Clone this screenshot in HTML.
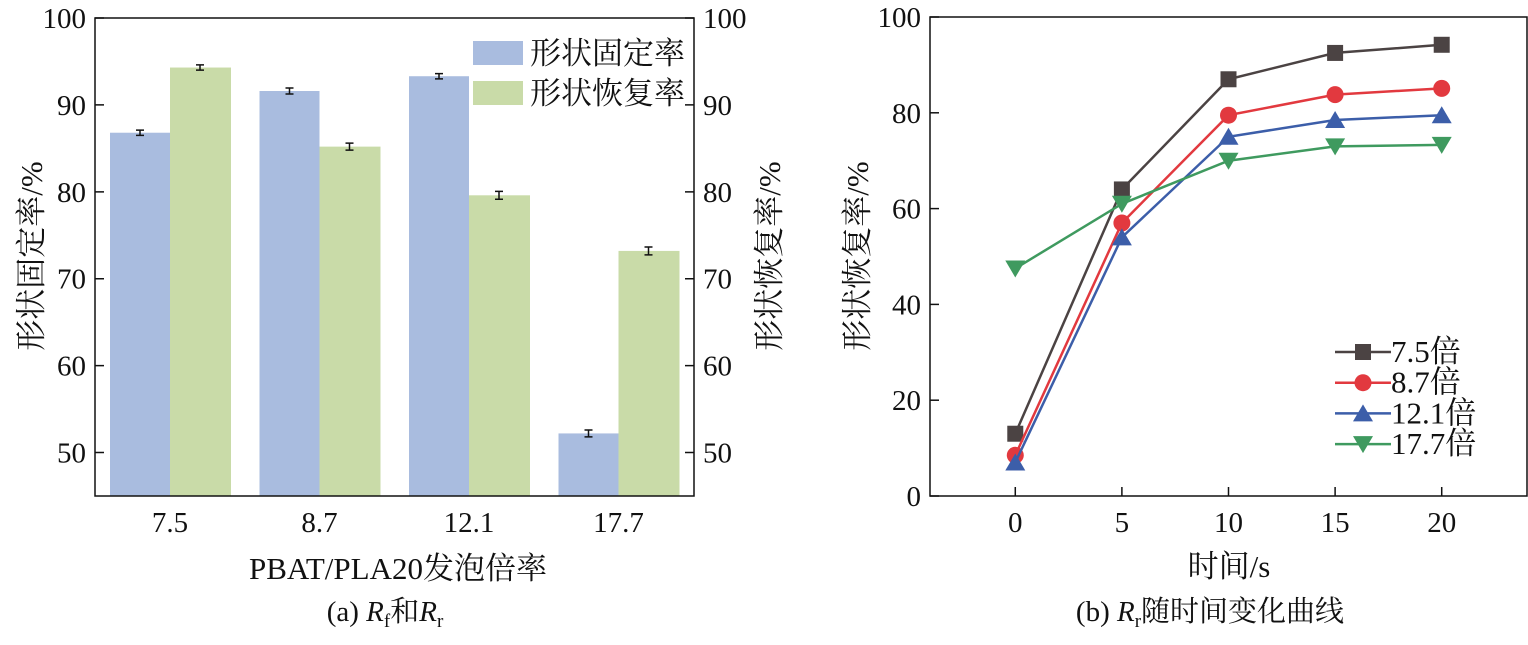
<!DOCTYPE html>
<html><head><meta charset="utf-8"><style>
body{margin:0;background:#fff}
svg text{font-family:"Liberation Serif","Noto Serif CJK SC","Noto Sans CJK SC",serif;fill:#111}
</style></head><body>
<svg id="s" width="1528" height="640" xmlns="http://www.w3.org/2000/svg"></svg>
<script>
const barCats=["7.5","8.7","12.1","17.7"];
const rfVals=[86.8,91.6,93.3,52.2];
const rrVals=[94.3,85.2,79.6,73.2];
const rfErr=[0.3,0.35,0.3,0.4];
const rrErr=[0.3,0.4,0.45,0.45];
const barTicks=[50,60,70,80,90,100];
const timeVals=[0,5,10,15,20];
const s75=[13,64,87,92.5,94.2];
const s87=[8.5,57,79.5,83.8,85.1];
const s121=[7,54,75,78.5,79.5];
const s177=[47.5,61,70,73,73.3];
const lineNames=["7.5倍","8.7倍","12.1倍","17.7倍"];
const lineTicksY=[0,20,40,60,80,100];
const svg=document.getElementById('s');
const NS="http://www.w3.org/2000/svg";
const FT=29, FA=31;
function mk(t,a,txt){const e=document.createElementNS(NS,t);for(const k in a)e.setAttribute(k,a[k]);if(txt!==undefined)e.textContent=txt;svg.appendChild(e);return e;}
// Left chart
const L={x0:95,x1:694,y0:496,y1:18,min:45,max:100};
const ly=v=>L.y0-(v-L.min)/(L.max-L.min)*(L.y0-L.y1);
const gx=i=>170+i*149.5;
barCats.forEach((c,i)=>{
 let b=mk('rect',{x:gx(i)-60,y:ly(rfVals[i]),width:60,height:L.y0-ly(rfVals[i]),fill:'#a9bcdf'});
 
 b=mk('rect',{x:gx(i),y:ly(rrVals[i]),width:61,height:L.y0-ly(rrVals[i]),fill:'#c9dba8'});
 
 [[gx(i)-30,rfVals[i],rfErr[i]],[gx(i)+30,rrVals[i],rrErr[i]]].forEach(([x,v,e])=>{
  const p=mk('path',{d:`M${x-4},${ly(v+e)}H${x+4}M${x},${ly(v+e)}V${ly(v-e)}M${x-4},${ly(v-e)}H${x+4}`,stroke:'#111','stroke-width':1.5,fill:'none'});
  
 });
 const t=mk('text',{x:gx(i),y:532,'font-size':FT,'text-anchor':'middle'},c);
 
});
let f=mk('rect',{x:L.x0,y:L.y1,width:L.x1-L.x0,height:L.y0-L.y1,fill:'none',stroke:'#111','stroke-width':1.5});

barTicks.forEach(v=>{
 mk('path',{d:`M${L.x0},${ly(v)}h9M${L.x1},${ly(v)}h-9`,stroke:'#111','stroke-width':1.5});
 let t=mk('text',{x:L.x0-9,y:ly(v)+10,'font-size':FT,'text-anchor':'end'},v);
 
 t=mk('text',{x:L.x1+9,y:ly(v)+10,'font-size':FT},v);
 
});
[['#a9bcdf','形状固定率',41],['#c9dba8','形状恢复率',81]].forEach(([c,n,y])=>{
 let r=mk('rect',{x:473,y:y,width:50,height:24,fill:c});
 
 let t=mk('text',{x:530,y:y+23,'font-size':FA},n);
 
});
let t=mk('text',{x:398,y:579,'font-size':FA,'text-anchor':'middle'},'PBAT/PLA20发泡倍率');

t=mk('text',{transform:'translate(42,256) rotate(-90)','font-size':FA,'text-anchor':'middle'},'形状固定率/%');

t=mk('text',{transform:'translate(780,256) rotate(-90)','font-size':FA,'text-anchor':'middle'},'形状恢复率/%');

t=mk('text',{x:385,y:621,'font-size':29,'text-anchor':'middle'});
t.innerHTML='(a) <tspan font-style="italic">R</tspan><tspan font-size="19" dy="6">f</tspan><tspan dy="-6">和</tspan><tspan font-style="italic">R</tspan><tspan font-size="19" dy="6">r</tspan>';

// Right chart
const R={x0:930,x1:1527,y0:496,y1:17,xmin:-4,xmax:24};
const rx=v=>R.x0+(v-R.xmin)/(R.xmax-R.xmin)*(R.x1-R.x0);
const ry=v=>R.y0-v/100*(R.y0-R.y1);
f=mk('rect',{x:R.x0,y:R.y1,width:R.x1-R.x0,height:R.y0-R.y1,fill:'none',stroke:'#111','stroke-width':1.5});

lineTicksY.forEach(v=>{
 mk('path',{d:`M${R.x0},${ry(v)}h9`,stroke:'#111','stroke-width':1.5});
 let t=mk('text',{x:R.x0-9,y:ry(v)+10,'font-size':FT,'text-anchor':'end'},v);
 
});
timeVals.forEach(v=>{
 mk('path',{d:`M${rx(v)},${R.y0}v-9`,stroke:'#111','stroke-width':1.5});
 let t=mk('text',{x:rx(v),y:532,'font-size':FT,'text-anchor':'middle'},v);
 
});
const series=[s75,s87,s121,s177];
const colors=['#4b4343','#e2393f','#3c5ea9','#3f9a5f'];
const shapes=['sq','ci','tu','td'];
function marker(sh,x,y,c){
 let e;
 if(sh=='sq')e=mk('rect',{x:x-8,y:y-8,width:16,height:16,fill:c});
 else if(sh=='ci')e=mk('circle',{cx:x,cy:y,r:8.5,fill:c});
 else if(sh=='tu')e=mk('path',{d:`M${x},${y-9}L${x+10},${y+8}H${x-10}Z`,fill:c});
 else e=mk('path',{d:`M${x},${y+9}L${x+10},${y-8}H${x-10}Z`,fill:c});
 return e;
}
series.forEach((arr,k)=>{
 let p=mk('polyline',{points:arr.map((v,i)=>rx(timeVals[i])+','+ry(v)).join(' '),fill:'none',stroke:colors[k],'stroke-width':2.5});
 
 arr.forEach((v,i)=>{const m=marker(shapes[k],rx(timeVals[i]),ry(v),colors[k]);
  });
 const ly2=352+k*30.7;
 let l=mk('path',{d:`M1335,${ly2}H1391`,stroke:colors[k],'stroke-width':2.5});
 
 const m=marker(shapes[k],1363,ly2,colors[k]);
 
 let tt=mk('text',{x:1391,y:ly2+10,'font-size':FA},lineNames[k]);
 
});
t=mk('text',{x:1229,y:577,'font-size':FA,'text-anchor':'middle'},'时间/s');

t=mk('text',{transform:'translate(868,256) rotate(-90)','font-size':FA,'text-anchor':'middle'},'形状恢复率/%');

t=mk('text',{x:1210,y:621,'font-size':29,'text-anchor':'middle'});
t.innerHTML='(b) <tspan font-style="italic">R</tspan><tspan font-size="19" dy="6">r</tspan><tspan dy="-6">随时间变化曲线</tspan>';

</script>
</body></html>
